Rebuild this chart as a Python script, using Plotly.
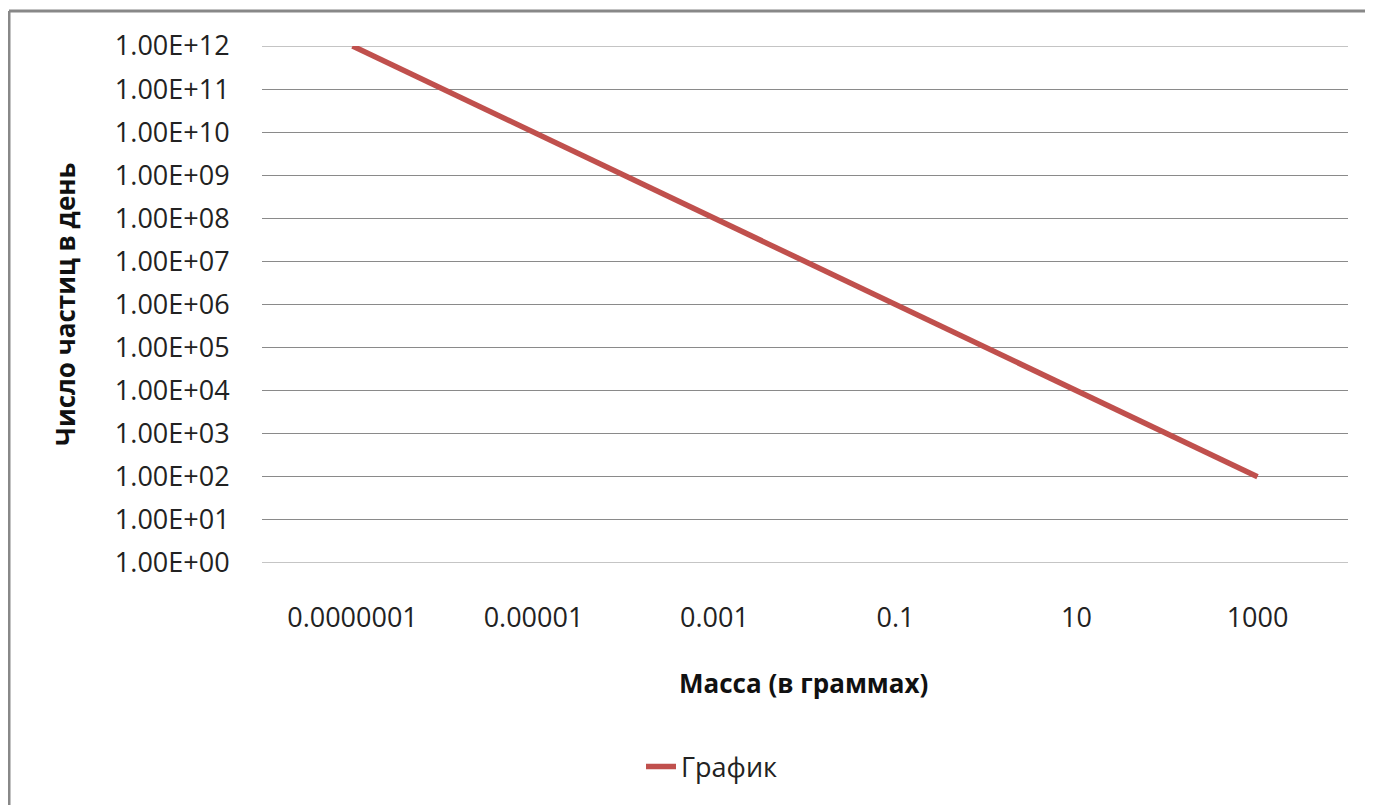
import plotly.graph_objects as go

# Data
mass_labels = ["0.0000001", "0.00001", "0.001", "0.1", "10", "1000"]
particles_per_day = [1e12, 1e10, 1e8, 1e6, 1e4, 1e2]
y_tick_vals = [10 ** k for k in range(0, 13)]
y_tick_text = ["1.00E+%02d" % k for k in range(0, 13)]
series_name = "График"
x_title = "Масса (в граммах)"
y_title = "Число частиц в день"

# The page body has an 8px margin; lay out in page pixels and compensate.
OFF = 8
PAGE_W, PAGE_H = 1373, 805
W, H = PAGE_W - OFF, PAGE_H - OFF
PLOT_L, PLOT_R, PLOT_T, PLOT_B = 262, 1348, 46, 563  # page pixels
L = PLOT_L - OFF
T = PLOT_T - OFF
R = W - (PLOT_R - OFF)
B = H - (PLOT_B - OFF)
pw, ph = PLOT_R - PLOT_L, PLOT_B - PLOT_T

def px(x):
    return (x - PLOT_L) / pw

def py(y):
    return (PLOT_B - y) / ph

FONT = "Open Sans"
TXT = "#222222"
GRID = "#8a8a8a"
fig = go.Figure()
fig.add_trace(go.Scatter(
    x=mass_labels, y=particles_per_day, mode="lines", name=series_name,
    line=dict(color="#C0504D", width=5.5),
))

# gridlines at the two range edges (Plotly skips these)
edge_grid = [
    dict(type="line", xref="paper", yref="y", x0=0, x1=1,
         y0=y_tick_vals[0], y1=y_tick_vals[0], line=dict(color=GRID, width=1), layer="below"),
    dict(type="line", xref="paper", yref="y", x0=0, x1=1,
         y0=y_tick_vals[-1], y1=y_tick_vals[-1], line=dict(color=GRID, width=1), layer="below"),
]

fig.update_layout(
    width=W, height=H,
    margin=dict(l=L, r=R, t=T, b=B),
    paper_bgcolor="white", plot_bgcolor="white",
    font=dict(family=FONT, size=22, color=TXT),
    showlegend=True,
    legend=dict(x=px(712), y=py(767), xanchor="center", yanchor="middle",
                orientation="h", font=dict(family=FONT, size=27, color=TXT),
                bgcolor="rgba(0,0,0,0)"),
    xaxis=dict(type="category", range=[-0.5, 5.5], showgrid=False, zeroline=False,
               showline=False, ticks="outside", ticklen=31, tickcolor="rgba(0,0,0,0)",
               tickfont=dict(family=FONT, size=27, color=TXT)),
    yaxis=dict(type="log", range=[0, 12], tickvals=y_tick_vals, ticktext=y_tick_text,
               showgrid=True, gridcolor=GRID, gridwidth=1, zeroline=False,
               showline=False, ticks="outside", ticklen=26, tickcolor="rgba(0,0,0,0)",
               tickfont=dict(family=FONT, size=27, color=TXT)),
    annotations=[
        dict(text="<b>" + x_title + "</b>", xref="paper", yref="paper",
             x=px(803), y=py(683), xanchor="center", yanchor="middle",
             showarrow=False, font=dict(family=FONT, size=26, color="#111111")),
        dict(text="<b>" + y_title + "</b>", xref="paper", yref="paper",
             x=px(65), y=py(305), xanchor="center", yanchor="middle", textangle=-90,
             showarrow=False, font=dict(family=FONT, size=26, color="#111111")),
    ],
    shapes=edge_grid + [
        dict(type="line", xref="paper", yref="paper", x0=px(9), x1=px(PAGE_W + 5),
             y0=py(11), y1=py(11), line=dict(color="#888888", width=3)),
        dict(type="line", xref="paper", yref="paper", x0=px(9), x1=px(9),
             y0=py(11), y1=py(PAGE_H + 5), line=dict(color="#888888", width=3)),
    ],
)

fig.write_html("out.html")
